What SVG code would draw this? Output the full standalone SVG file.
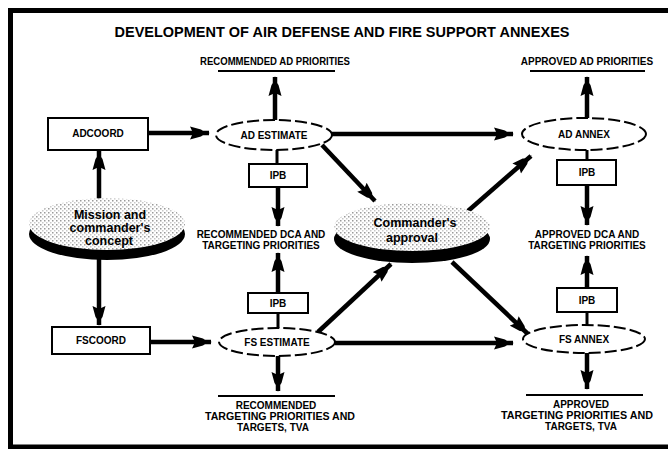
<svg xmlns="http://www.w3.org/2000/svg" width="668" height="449" viewBox="0 0 668 449">
  <defs>
    <style>
      .t { font-family: "Liberation Sans", Arial, sans-serif; font-weight: bold; fill: #000; text-anchor: middle; }
      .title { font-size: 14px; }
      .lbl { font-size: 10px; }
      .big { font-size: 12.5px; }
      .box { fill: #fff; stroke: #000; stroke-width: 2; }
      .oval { fill: #fff; stroke: #000; stroke-width: 2; stroke-dasharray: 12 4; }
      .rule { stroke: #000; stroke-width: 2; }
      .link { stroke: #000; stroke-width: 4.5; fill: none; marker-end: url(#head); }
      .stem { stroke: #000; stroke-width: 3; fill: none; }
    </style>
    <marker id="head" viewBox="0 -7 20 14" refX="19" refY="0" markerWidth="20" markerHeight="14" markerUnits="userSpaceOnUse" orient="auto">
      <path d="M0,-6.5 L11,-3.5 L13,-2 L20,0 L13,2 L11,3.5 L0,6.5 L3,0 Z" fill="#000"/>
    </marker>
    <pattern id="speckle" width="4" height="4" patternUnits="userSpaceOnUse">
      <rect width="4" height="4" fill="#fff"/>
      <rect x="0" y="0" width="1.5" height="1.5" fill="#9a9a9a"/>
      <rect x="2" y="2" width="1.5" height="1.5" fill="#c8c8c8"/>
    </pattern>
  </defs>

  <rect width="668" height="449" fill="#fff"/>

  <!-- frame -->
  <path d="M668,10.5 H10.5 V447 H668" fill="none" stroke="#000" stroke-width="5"/>

  <text class="t title" x="342" y="37" textLength="455" lengthAdjust="spacingAndGlyphs">DEVELOPMENT OF AIR DEFENSE AND FIRE SUPPORT ANNEXES</text>

  <!-- output labels -->
  <g id="out-rec-ad">
    <text class="t lbl" x="275" y="65" textLength="150" lengthAdjust="spacingAndGlyphs">RECOMMENDED AD PRIORITIES</text>
    <line class="rule" x1="218" y1="71" x2="335" y2="71"/>
  </g>
  <g id="out-app-ad">
    <text class="t lbl" x="587" y="65">APPROVED AD PRIORITIES</text>
    <line class="rule" x1="530" y1="71" x2="645" y2="71"/>
  </g>
  <g id="out-rec-dca">
    <text class="t lbl" x="261" y="238">RECOMMENDED DCA AND</text>
    <text class="t lbl" x="261" y="249">TARGETING PRIORITIES</text>
  </g>
  <g id="out-app-dca">
    <text class="t lbl" x="587" y="238">APPROVED DCA AND</text>
    <text class="t lbl" x="587" y="249">TARGETING PRIORITIES</text>
  </g>
  <g id="out-rec-tgt">
    <line class="rule" x1="218" y1="396" x2="335" y2="396"/>
    <text class="t lbl" x="276" y="409">RECOMMENDED</text>
    <text class="t lbl" x="280" y="420" textLength="150" lengthAdjust="spacingAndGlyphs">TARGETING PRIORITIES AND</text>
    <text class="t lbl" x="273" y="431">TARGETS, TVA</text>
  </g>
  <g id="out-app-tgt">
    <line class="rule" x1="526" y1="395" x2="643" y2="395"/>
    <text class="t lbl" x="581" y="408">APPROVED</text>
    <text class="t lbl" x="577" y="419" textLength="152" lengthAdjust="spacingAndGlyphs">TARGETING PRIORITIES AND</text>
    <text class="t lbl" x="581" y="430">TARGETS, TVA</text>
  </g>

  <!-- connectors -->
  <g id="connectors">
    <line class="link" x1="99" y1="200" x2="99" y2="151"/>
    <line class="link" x1="99" y1="259" x2="99" y2="325"/>
    <line class="link" x1="148" y1="133" x2="209" y2="133"/>
    <line class="link" x1="150" y1="342" x2="211" y2="342"/>
    <line class="link" x1="275" y1="120" x2="275" y2="77"/>
    <line class="stem" x1="277" y1="150" x2="277" y2="164"/>
    <line class="link" x1="278" y1="187" x2="278" y2="226"/>
    <line class="link" x1="278" y1="293" x2="278" y2="253"/>
    <line class="stem" x1="278" y1="313" x2="278" y2="328"/>
    <line class="link" x1="278" y1="356" x2="278" y2="391"/>
    <line class="link" x1="332" y1="134" x2="513" y2="134"/>
    <line class="link" x1="335" y1="343" x2="513" y2="343"/>
    <line class="link" x1="322" y1="145" x2="375" y2="201"/>
    <line class="link" x1="468" y1="211" x2="531" y2="156"/>
    <line class="link" x1="318" y1="332" x2="391" y2="264"/>
    <line class="link" x1="452" y1="262" x2="528" y2="334"/>
    <line class="link" x1="587" y1="118" x2="587" y2="77"/>
    <line class="stem" x1="587" y1="150" x2="587" y2="160"/>
    <line class="link" x1="587" y1="185" x2="587" y2="225"/>
    <line class="link" x1="587" y1="288" x2="587" y2="256"/>
    <line class="stem" x1="587" y1="312" x2="587" y2="325"/>
    <line class="link" x1="587" y1="353" x2="587" y2="389"/>
  </g>

  <!-- nodes -->
  <g id="adcoord">
    <rect class="box" x="48" y="118" width="100" height="32"/>
    <text class="t lbl" x="98" y="137">ADCOORD</text>
  </g>
  <g id="fscoord">
    <rect class="box" x="52" y="327" width="98" height="27"/>
    <text class="t lbl" x="101" y="344">FSCOORD</text>
  </g>
  <g id="mission">
    <ellipse cx="107" cy="234" rx="78" ry="26" fill="#000"/>
    <ellipse cx="107" cy="224" rx="78" ry="26" fill="url(#speckle)"/>
    <text class="t big" x="110" y="219">Mission and</text>
    <text class="t big" x="110" y="232">commander's</text>
    <text class="t big" x="109" y="245">concept</text>
  </g>
  <g id="approval">
    <ellipse cx="412" cy="239" rx="78" ry="24" fill="#000"/>
    <ellipse cx="412" cy="227" rx="78" ry="24" fill="url(#speckle)"/>
    <text class="t big" x="415" y="227">Commander's</text>
    <text class="t big" x="412" y="242">approval</text>
  </g>
  <g id="ad-estimate">
    <ellipse class="oval" cx="274" cy="135" rx="58" ry="15"/>
    <text class="t lbl" x="274" y="139">AD ESTIMATE</text>
  </g>
  <g id="fs-estimate">
    <ellipse class="oval" cx="277" cy="342" rx="58" ry="14"/>
    <text class="t lbl" x="277" y="346">FS ESTIMATE</text>
  </g>
  <g id="ad-annex">
    <ellipse class="oval" cx="584" cy="134" rx="62" ry="16"/>
    <text class="t lbl" x="584" y="138">AD ANNEX</text>
  </g>
  <g id="fs-annex">
    <ellipse class="oval" cx="584" cy="339" rx="61" ry="14"/>
    <text class="t lbl" x="584" y="343">FS ANNEX</text>
  </g>
  <g id="ipb-ad">
    <rect class="box" x="249" y="164" width="58" height="23"/>
    <text class="t lbl" x="278" y="179">IPB</text>
  </g>
  <g id="ipb-fs">
    <rect class="box" x="248" y="293" width="60" height="20"/>
    <text class="t lbl" x="278" y="307">IPB</text>
  </g>
  <g id="ipb-adannex">
    <rect class="box" x="557" y="160" width="59" height="25"/>
    <text class="t lbl" x="587" y="176">IPB</text>
  </g>
  <g id="ipb-fsannex">
    <rect class="box" x="557" y="288" width="60" height="24"/>
    <text class="t lbl" x="587" y="304">IPB</text>
  </g>
</svg>
